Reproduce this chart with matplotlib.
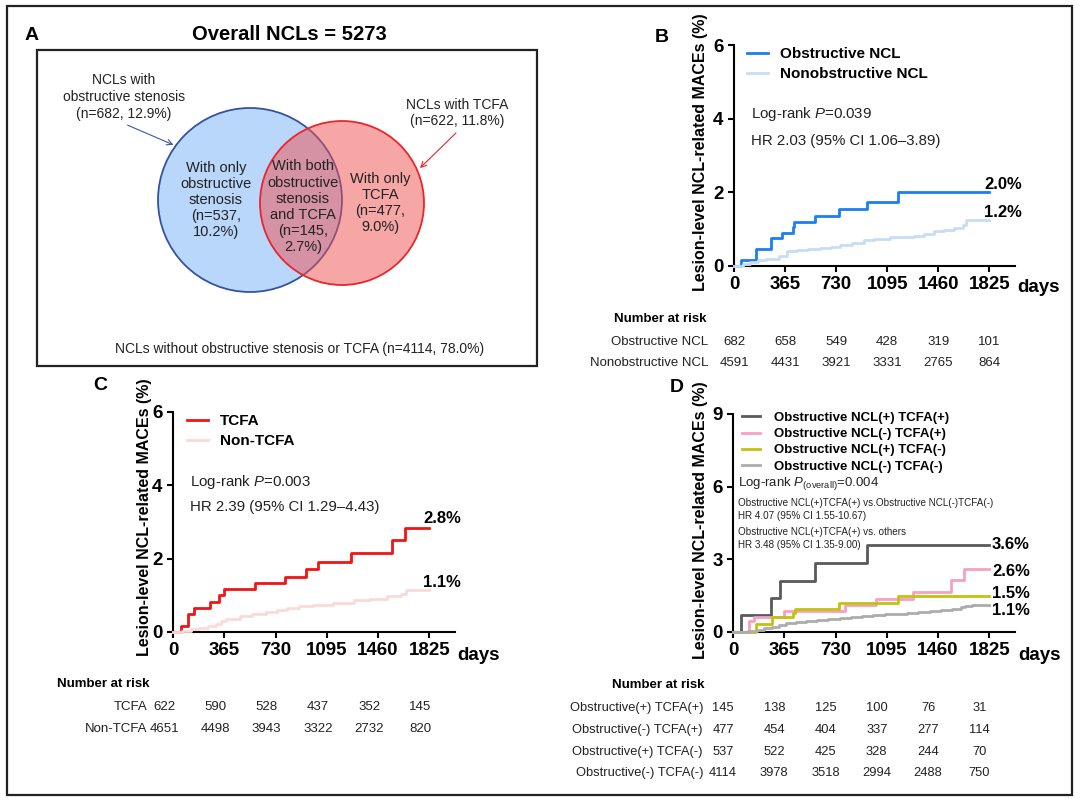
import matplotlib
matplotlib.use('Agg')
import matplotlib.pyplot as plt
import matplotlib.transforms as mtransforms
from matplotlib.patches import Circle, Rectangle

# ========================= Style =========================
plt.rcParams['font.family'] = ['Liberation Sans', 'DejaVu Sans']
plt.rcParams['mathtext.fontset'] = 'custom'
plt.rcParams['mathtext.rm'] = 'Liberation Sans'
plt.rcParams['mathtext.it'] = 'Liberation Sans:italic'

W, H = 1080, 802
DPI = 100

# ========================= Data =========================
TICK_DAYS = [0, 365, 730, 1095, 1460, 1825]

# Panel A (Venn)
TOTAL_NCL = 5273
OBS_LABEL = "NCLs with\nobstructive stenosis\n(n=682, 12.9%)"
TCFA_LABEL = "NCLs with TCFA\n(n=622, 11.8%)"
OBS_ONLY = "With only\nobstructive\nstenosis\n(n=537,\n10.2%)"
BOTH = "With both\nobstructive\nstenosis\nand TCFA\n(n=145,\n2.7%)"
TCFA_ONLY = "With only\nTCFA\n(n=477,\n9.0%)"
NEITHER = "NCLs without obstructive stenosis or TCFA (n=4114, 78.0%)"

# Panel B
b_obs_days = [0, 53, 160, 261, 340, 419, 431, 580, 752, 951, 1174, 1825]
b_obs_pct = [0, 0.15, 0.45, 0.75, 0.90, 1.05, 1.20, 1.35, 1.55, 1.75, 2.0, 2.0]
b_non_days = [0, 65, 113, 170, 230, 280, 320, 376, 450, 530, 615, 690, 760, 840,
              927, 1000, 1118, 1200, 1286, 1360, 1430, 1500, 1573, 1633, 1657, 1825]
b_non_pct = [0, 0.05, 0.12, 0.15, 0.18, 0.20, 0.27, 0.42, 0.44, 0.46, 0.48, 0.52, 0.57, 0.63,
             0.70, 0.74, 0.78, 0.80, 0.82, 0.88, 0.96, 0.99, 1.03, 1.12, 1.25, 1.25]
b_names = ['Obstructive NCL', 'Nonobstructive NCL']
b_final = ['2.0%', '1.2%']
b_risk = [[682, 658, 549, 428, 319, 101],
          [4591, 4431, 3921, 3331, 2765, 864]]

# Panel C
c_tcfa_days = [0, 55, 110, 151, 263, 330, 361, 581, 797, 947, 1029, 1270, 1557, 1653, 1825]
c_tcfa_pct = [0, 0.17, 0.50, 0.65, 0.83, 1.0, 1.17, 1.33, 1.50, 1.72, 1.90, 2.15, 2.50, 2.85, 2.85]
c_non_days = [0, 67, 130, 187, 250, 306, 340, 378, 474, 560, 665, 740, 809, 900,
              1000, 1140, 1287, 1400, 1526, 1622, 1658, 1825]
c_non_pct = [0, 0.04, 0.08, 0.11, 0.17, 0.23, 0.30, 0.35, 0.43, 0.48, 0.54, 0.60, 0.65, 0.70,
             0.75, 0.80, 0.86, 0.91, 0.97, 1.05, 1.14, 1.14]
c_names = ['TCFA', 'Non-TCFA']
c_final = ['2.8%', '1.1%']
c_risk = [[622, 590, 528, 437, 352, 145],
          [4651, 4498, 3943, 3322, 2732, 820]]

# Panel D
d_pp_days = [0, 60, 268, 335, 581, 957, 1825]
d_pp_pct = [0, 0.7, 1.4, 2.1, 2.85, 3.6, 3.6]
d_mp_days = [0, 115, 150, 366, 801, 1017, 1280, 1555, 1646, 1825]
d_mp_pct = [0, 0.45, 0.6, 0.85, 1.1, 1.35, 1.65, 2.15, 2.6, 2.6]
d_pm_days = [0, 167, 275, 430, 445, 758, 1177, 1825]
d_pm_pct = [0, 0.35, 0.6, 0.8, 0.95, 1.2, 1.5, 1.5]
d_mm_days = [0, 110, 170, 220, 280, 330, 380, 450, 520, 600, 680, 760, 840, 920,
             1000, 1080, 1160, 1240, 1320, 1400, 1480, 1560, 1620, 1650, 1700, 1825]
d_mm_pct = [0, 0.03, 0.10, 0.15, 0.20, 0.30, 0.37, 0.40, 0.44, 0.48, 0.53, 0.58, 0.62, 0.66,
            0.70, 0.73, 0.76, 0.79, 0.83, 0.87, 0.92, 0.97, 1.02, 1.07, 1.10, 1.10]
d_names = ['Obstructive NCL(+) TCFA(+)', 'Obstructive NCL(-) TCFA(+)',
           'Obstructive NCL(+) TCFA(-)', 'Obstructive NCL(-) TCFA(-)']
d_final = ['3.6%', '2.6%', '1.5%', '1.1%']
d_risk_names = ['Obstructive(+) TCFA(+)', 'Obstructive(-) TCFA(+)',
                'Obstructive(+) TCFA(-)', 'Obstructive(-) TCFA(-)']
d_risk = [[145, 138, 125, 100, 76, 31],
          [477, 454, 404, 337, 277, 114],
          [537, 522, 425, 328, 244, 70],
          [4114, 3978, 3518, 2994, 2488, 750]]

# ========================= Figure =========================
fig = plt.figure(figsize=(W / DPI, H / DPI), dpi=DPI)
ov = fig.add_axes([0, 0, 1, 1])
ov.set_xlim(0, W)
ov.set_ylim(H, 0)
ov.axis('off')

# outer frame and Venn frame
ov.add_patch(Rectangle((7, 6), 1065, 789, fill=False, lw=1.6, ec='#222222'))
ov.add_patch(Rectangle((37, 50), 500, 316, fill=False, lw=1.6, ec='#222222'))


def px_axes(left, top, right, bottom):
    return fig.add_axes([left / W, 1 - bottom / H, (right - left) / W, (bottom - top) / H],
                        facecolor='none')


# ========================= Panel A =========================
ov.text(32, 35, 'A', fontsize=14, fontweight='bold', ha='center', va='center')
ov.text(289, 35, f'Overall NCLs = {TOTAL_NCL}', fontsize=14.5, fontweight='bold',
        ha='center', va='center')
ov.add_patch(Circle((250, 200), 92, fc='#b9d7fa', ec='#34539c', lw=1.3))
ov.add_patch(Circle((342, 203), 82, fc=(0.94, 0.31, 0.31, 0.5), ec='#e8262b', lw=1.3))
ov.text(124, 97, OBS_LABEL, fontsize=10, ha='center', va='center', color='#222222',
        linespacing=1.25)
ov.text(457, 113, TCFA_LABEL, fontsize=10, ha='center', va='center', color='#222222',
        linespacing=1.25)
ov.annotate('', xy=(176, 146), xytext=(125, 124),
            arrowprops=dict(arrowstyle='->', color='#3a5aa0', lw=0.8))
ov.annotate('', xy=(418, 170), xytext=(458, 131),
            arrowprops=dict(arrowstyle='->', color='#e8262b', lw=0.8))
ov.text(216, 200, OBS_ONLY, fontsize=10.5, ha='center', va='center', color='#222222',
        linespacing=1.2)
ov.text(303, 207, BOTH, fontsize=10.5, ha='center', va='center', color='#222222',
        linespacing=1.2)
ov.text(380, 203, TCFA_ONLY, fontsize=10.5, ha='center', va='center', color='#222222',
        linespacing=1.2)
ov.text(300, 349, NEITHER, fontsize=10, ha='center', va='center', color='#222222')


# ========================= KM helper =========================
def km_panel(box, ymax, yticks, curves, names, finals, final_pos, leg_anchor, leg_fs,
             leg_spacing, leg_pad):
    ax = px_axes(*box)
    for (days, pct, color) in curves:
        ax.step(days, pct, where='post', color=color, lw=2, clip_on=False, zorder=3)
    ax.set_xlim(0, 2008)
    ax.set_ylim(0, ymax)
    ax.set_xticks(TICK_DAYS)
    ax.set_yticks(yticks)
    for s in ['top', 'right']:
        ax.spines[s].set_visible(False)
    for s in ['left', 'bottom']:
        ax.spines[s].set_linewidth(1.5)
    ax.tick_params(direction='out', length=4.5, width=1.5, labelsize=13.5, pad=3)
    for lab in ax.get_xticklabels() + ax.get_yticklabels():
        lab.set_fontweight('bold')
    handles = ax.get_lines()
    ax.legend(handles, names, loc='upper left', bbox_to_anchor=leg_anchor, frameon=False,
              prop={'weight': 'bold', 'size': leg_fs}, handlelength=1.4, handletextpad=leg_pad,
              borderpad=0, borderaxespad=0, labelspacing=leg_spacing)
    for txt, (x, y) in zip(finals, final_pos):
        ax.text(x, y, txt, fontsize=12, fontweight='bold', ha='left', va='center')
    return ax


def risk_table(ax, title_xy, row_names, rows, row_ys, label_x, shift, fs):
    ov.text(title_xy[0], title_xy[1], 'Number at risk', fontsize=9.5, fontweight='bold',
            ha='left', va='center')
    trans = mtransforms.blended_transform_factory(ax.transData, ov.transData)
    trans = mtransforms.offset_copy(trans, fig=fig, x=shift, y=0, units='dots')
    for name, vals, y in zip(row_names, rows, row_ys):
        ov.text(label_x, y, name, fontsize=fs, ha='right', va='center', color='#222222')
        for d, v in zip(TICK_DAYS, vals):
            ax.text(d, y, str(v), transform=trans, fontsize=fs, ha='center', va='center',
                    color='#222222', clip_on=False)


YLABEL = 'Lesion-level NCL-related MACEs (%)'

# ========================= Panel B =========================
ov.text(662, 37, 'B', fontsize=14, fontweight='bold', ha='center', va='center')
axb = km_panel((734, 45, 1015, 266), 6, [0, 2, 4, 6],
               [(b_obs_days, b_obs_pct, '#1a7ff0'), (b_non_days, b_non_pct, '#c7ddf7')],
               b_names, b_final, [(1790, 2.2), (1790, 1.44)], (0.046, 0.99), 11, 0.38, 0.75)
axb.text(0.06, 0.69, r'Log-rank $\mathit{P}$=0.039', transform=axb.transAxes, fontsize=10.8,
         va='center', color='#222222')
axb.text(0.06, 0.565, 'HR 2.03 (95% CI 1.06\u20133.89)', transform=axb.transAxes,
         fontsize=10.8, va='center', color='#222222')
ov.text(701, 152, YLABEL, rotation=90, fontsize=11.5, fontweight='bold', ha='center',
        va='center')
ov.text(1017, 287, 'days', fontsize=13.5, fontweight='bold', ha='left', va='center')
risk_table(axb, (614, 319), b_names, b_risk, [342, 363], 708, 0, 9.5)

# ========================= Panel C =========================
ov.text(100, 386, 'C', fontsize=14, fontweight='bold', ha='center', va='center')
axc = km_panel((173, 412, 455, 632), 6, [0, 2, 4, 6],
               [(c_tcfa_days, c_tcfa_pct, '#f01414'), (c_non_days, c_non_pct, '#fcd9d9')],
               c_names, c_final, [(1782, 3.1), (1782, 1.36)], (0.05, 0.99), 11, 0.38, 0.75)
axc.text(0.06, 0.68, r'Log-rank $\mathit{P}$=0.003', transform=axc.transAxes, fontsize=10.8,
         va='center', color='#222222')
axc.text(0.06, 0.57, 'HR 2.39 (95% CI 1.29\u20134.43)', transform=axc.transAxes,
         fontsize=10.8, va='center', color='#222222')
ov.text(145, 517, YLABEL, rotation=90, fontsize=11.5, fontweight='bold', ha='center',
        va='center')
ov.text(457, 655, 'days', fontsize=13.5, fontweight='bold', ha='left', va='center')
risk_table(axc, (57, 684), c_names, c_risk, [707, 729], 147, -9, 9.5)

# ========================= Panel D =========================
ov.text(677, 387, 'D', fontsize=14, fontweight='bold', ha='center', va='center')
axd = km_panel((733, 414, 1015, 632), 9, [0, 3, 6, 9],
               [(d_pp_days, d_pp_pct, '#5a5a5a'), (d_mp_days, d_mp_pct, '#f6a0c3'),
                (d_pm_days, d_pm_pct, '#c4c20c'), (d_mm_days, d_mm_pct, '#acacac')],
               d_names, d_final,
               [(1845, 3.6), (1845, 2.48), (1845, 1.61), (1845, 0.87)], (0.032, 1.01), 9.5,
               0.3, 1.0)
ov.text(738, 483, r'Log-rank $\mathit{P}_{\mathrm{(overall)}}$=0.004', fontsize=9.5,
        ha='left', va='center', color='#222222')
d_notes = ['Obstructive NCL(+)TCFA(+) vs.Obstructive NCL(-)TCFA(-)',
           'HR 4.07 (95% CI 1.55-10.67)',
           'Obstructive NCL(+)TCFA(+) vs. others',
           'HR 3.48 (95% CI 1.35-9.00)']
for note, y in zip(d_notes, [503, 516, 532, 545]):
    ov.text(738, y, note, fontsize=7.1, ha='left', va='center', color='#222222')
ov.text(700, 520, YLABEL, rotation=90, fontsize=11.5, fontweight='bold', ha='center',
        va='center')
ov.text(1018, 655, 'days', fontsize=13.5, fontweight='bold', ha='left', va='center')
risk_table(axd, (612, 685), d_risk_names, d_risk, [708, 730, 752, 773], 703, -10, 9.3)

fig.savefig('out.png', dpi=DPI)
